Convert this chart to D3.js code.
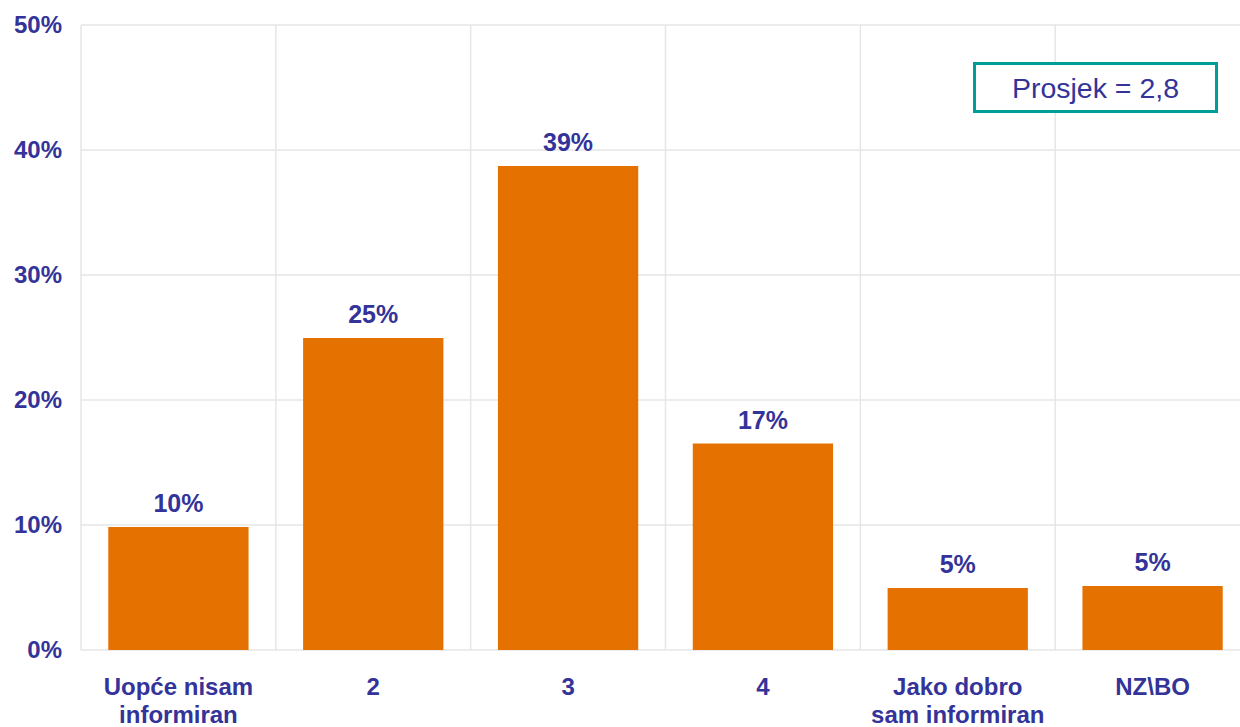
<!DOCTYPE html>
<html>
<head>
<meta charset="utf-8">
<script src="https://cdn.jsdelivr.net/npm/d3@7"></script>
<style>
  body { margin: 0; background: #fff; }
  svg { display: block; font-family: "Liberation Sans", Arial, sans-serif; }
</style>
</head>
<body>
<svg width="1240" height="727"></svg>
<script>
var categories = [["Uopće nisam", "informiran"], ["2"], ["3"], ["4"], ["Jako dobro", "sam informiran"], ["NZ\\BO"]];
var values = [9.84, 24.96, 38.72, 16.52, 4.96, 5.12];
var yTicks = [0, 10, 20, 30, 40, 50];
var average = "Prosjek = 2,8";

var svg = d3.select("svg"),
    textColor = "#333399",
    barColor = "#e57200",
    gridColor = "#e6e6e6";

var x = d3.scaleBand()
    .domain(d3.range(values.length))
    .range([81, 1250])
    .paddingInner(0.28)
    .paddingOuter(0.14);

var y = d3.scaleLinear()
    .domain([0, 50])
    .range([650, 25]);

var step = x.step(),
    left = x.range()[0];

// gridlines
var grid = svg.append("g").attr("class", "grid");
grid.selectAll("line.h")
    .data(yTicks)
    .enter().append("line")
    .attr("class", "h")
    .attr("x1", left)
    .attr("x2", 1250)
    .attr("y1", function(d) { return y(d); })
    .attr("y2", function(d) { return y(d); })
    .attr("stroke", gridColor)
    .attr("stroke-width", 1.5);

grid.selectAll("line.v")
    .data(d3.range(values.length + 1))
    .enter().append("line")
    .attr("class", "v")
    .attr("x1", function(i) { return left + i * step; })
    .attr("x2", function(i) { return left + i * step; })
    .attr("y1", y(50))
    .attr("y2", y(0))
    .attr("stroke", gridColor)
    .attr("stroke-width", 1.5);

// y axis labels
var yAxis = d3.axisLeft(y)
    .tickValues(yTicks)
    .tickFormat(function(d) { return d + "%"; })
    .tickSize(0)
    .tickPadding(19);

var yg = svg.append("g")
    .attr("transform", "translate(" + left + ",0)")
    .call(yAxis);
yg.select(".domain").remove();
yg.selectAll("text")
    .attr("fill", textColor)
    .style("font-size", "24px")
    .style("font-weight", "bold")
    .style("font-family", "'Liberation Sans', Arial, sans-serif");

// bars
svg.append("g").selectAll("rect")
    .data(values)
    .enter().append("rect")
    .attr("x", function(d, i) { return x(i); })
    .attr("width", x.bandwidth())
    .attr("y", function(d) { return y(d); })
    .attr("height", function(d) { return y(0) - y(d); })
    .attr("fill", barColor);

// value labels
svg.append("g").selectAll("text")
    .data(values)
    .enter().append("text")
    .attr("x", function(d, i) { return x(i) + x.bandwidth() / 2; })
    .attr("y", function(d) { return y(d) - 15; })
    .attr("text-anchor", "middle")
    .attr("fill", textColor)
    .style("font-size", "25px")
    .style("font-weight", "bold")
    .text(function(d) { return Math.round(d) + "%"; });

// category labels
var cat = svg.append("g").selectAll("text")
    .data(categories)
    .enter().append("text")
    .attr("x", function(d, i) { return x(i) + x.bandwidth() / 2; })
    .attr("y", 695)
    .attr("text-anchor", "middle")
    .attr("fill", textColor)
    .style("font-size", "24px")
    .style("font-weight", "bold");

cat.selectAll("tspan")
    .data(function(d) { return d; })
    .enter().append("tspan")
    .attr("x", function() { return d3.select(this.parentNode).attr("x"); })
    .attr("dy", function(d, i) { return i ? 28 : 0; })
    .text(function(d) { return d; });

// average box
svg.append("rect")
    .attr("x", 974.5)
    .attr("y", 63.5)
    .attr("width", 242)
    .attr("height", 48)
    .attr("fill", "#fff")
    .attr("stroke", "#009e96")
    .attr("stroke-width", 3);

svg.append("text")
    .attr("x", 1095.5)
    .attr("y", 98)
    .attr("text-anchor", "middle")
    .attr("fill", textColor)
    .style("font-size", "28.5px")
    .text(average);
</script>
</body>
</html>
